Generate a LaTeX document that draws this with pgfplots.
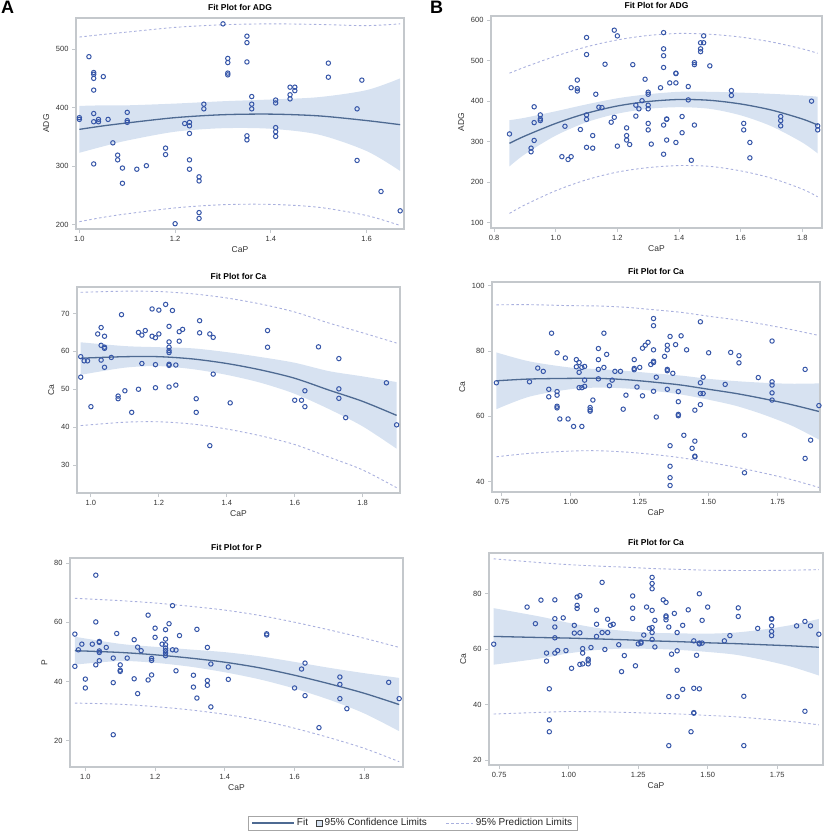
\documentclass[border=0pt]{standalone}
\usepackage{fontspec}
\setmainfont{Liberation Sans}
\usepackage{pgfplots}
\pgfplotsset{compat=1.18}
\usepackage{pgfplotstable}
\usepgfplotslibrary{fillbetween}
\definecolor{framec}{HTML}{C4C8CC}
\definecolor{textc}{HTML}{333333}
\definecolor{markc}{HTML}{3656A8}
\definecolor{fitc}{HTML}{4E6A92}
\definecolor{bandc}{HTML}{D7E2F1}
\definecolor{predc}{HTML}{A9B0DE}

% ---------------- fit / band tables ----------------
\pgfplotstableread{
x fit clo chi plo phi
1.00 363 323 403 205.5 520.5
1.05 369 334 404 213 525
1.10 374 344 404 219 529
1.20 383 359 407 229 537
1.30 388 365 411 234.5 541.5
1.40 389 364 414 235 543
1.50 386 354 418 230 542
1.60 378 326 430 216 540
1.67 371 292 450 199 543
}\bandAa
\pgfplotstableread{
x fit clo chi plo phi
0.85 296 239 353 123 469
0.90 314 269 359 144 484
1.00 345 315 375 179 511
1.10 370 348 392 206 534
1.20 388 369 407 225 551
1.30 399 381 417 236 562
1.40 404 385 423 241 567
1.50 402 381 423 239 565
1.60 393 365 421 228 558
1.70 378 338 418 210 546
1.80 356 298 414 183 529
1.85 341 271 411 164 518
}\bandBa
\pgfplotstableread{
x fit clo chi plo phi
0.97 58.2 53.8 62.4 40.4 75.6
1.10 58.6 55.7 61.4 41.3 75.9
1.20 58.6 56.1 61.1 41.4 75.8
1.30 58.0 55.3 60.8 40.8 75.2
1.40 56.8 53.8 59.8 39.5 74.1
1.50 55.1 51.7 58.5 37.7 72.5
1.60 52.9 48.8 57.0 35.4 70.4
1.70 49.8 44.8 54.8 32.1 67.5
1.80 46.8 40.2 53.4 28.7 64.9
1.90 43.1 34.3 51.9 24.0 62.2
}\bandAb
\pgfplotstableread{
x fit clo chi plo phi
0.73 70.9 62.2 79.6 47.6 94.2
0.85 71.45 66.05 76.85 48.65 94.25
1.00 71.65 68.35 74.95 49.35 93.95
1.10 71.65 68.8 74.5 49.45 93.85
1.20 71.25 68.55 73.95 49.05 93.45
1.30 70.5 67.8 73.2 48.3 92.7
1.40 69.6 66.7 72.5 47.3 91.9
1.50 68.3 65.1 71.5 45.9 90.7
1.60 67.0 63.2 70.8 44.4 89.6
1.70 65.4 60.5 70.3 42.6 88.2
1.80 63.6 57.2 70.0 40.6 86.6
1.90 61.5 52.9 70.1 38.2 84.8
}\bandBb
\pgfplotstableread{
x fit clo chi plo phi
0.97 50.4 45.7 55.1 32.7 68.1
1.10 49.8 46.9 52.7 32.3 67.3
1.20 49.0 46.3 51.7 31.5 66.5
1.30 47.9 45.0 50.8 30.4 65.4
1.40 46.5 43.1 49.9 28.9 64.1
1.50 44.6 40.7 48.5 26.9 62.3
1.60 42.1 37.6 46.6 24.2 60.0
1.70 39.2 33.8 44.6 21.0 57.4
1.80 36.0 29.2 42.8 17.4 54.6
1.90 32.2 23.2 41.2 12.9 51.5
}\bandAc
\pgfplotstableread{
x fit clo chi plo phi
0.73 64.6 54.4 74.8 36.6 92.6
0.90 64.2 56.7 71.7 37.2 91.2
1.00 64.0 58.5 69.5 37.5 90.5
1.10 63.7 59.7 67.7 37.4 90.0
1.20 63.4 60.2 66.6 37.2 89.6
1.30 63.0 60.1 65.9 36.9 89.1
1.40 62.7 59.7 65.7 36.6 88.8
1.50 62.3 59.0 65.6 36.1 88.5
1.60 62.0 58.0 66.0 35.6 88.4
1.70 61.6 56.1 67.1 34.8 88.4
1.80 61.2 53.7 68.7 33.9 88.5
1.90 60.7 50.5 70.9 32.7 88.7
}\bandBc

% ---------------- observations ----------------
\pgfplotstableread{
x y
1.00 383
1.00 380
1.02 487
1.03 460
1.03 457
1.03 450
1.03 430
1.03 390
1.03 376
1.03 304
1.04 380
1.04 376
1.05 453
1.06 380
1.07 340
1.08 319
1.08 311
1.09 297
1.09 271
1.10 392
1.10 378
1.10 375
1.12 295
1.14 301
1.18 331
1.18 320
1.20 202
1.22 373
1.23 375
1.23 369
1.23 356
1.23 311
1.23 295
1.25 282
1.25 275
1.25 221
1.25 211
1.26 406
1.26 398
1.30 543
1.31 484
1.31 477
1.31 459
1.31 456
1.35 522
1.35 511
1.35 478
1.35 352
1.35 345
1.36 419
1.36 406
1.36 398
1.41 413
1.41 408
1.41 366
1.41 359
1.41 351
1.44 435
1.44 422
1.44 415
1.45 435
1.45 429
1.52 476
1.52 452
1.58 398
1.58 310
1.59 447
1.63 257
1.67 224
}\obsAa
\pgfplotstableread{
x y
0.85 319
0.92 284
0.92 275
0.93 386
0.93 347
0.93 303
0.95 366
0.95 356
0.95 352
1.02 263
1.03 338
1.04 256
1.05 263
1.05 433
1.07 452
1.07 431
1.07 425
1.08 330
1.10 557
1.10 515
1.10 366
1.10 355
1.10 286
1.12 315
1.12 284
1.13 417
1.14 385
1.15 384
1.16 491
1.18 348
1.19 575
1.19 360
1.20 561
1.20 289
1.23 334
1.23 315
1.23 304
1.24 293
1.25 490
1.26 390
1.26 363
1.27 381
1.28 401
1.29 454
1.30 422
1.30 417
1.30 390
1.30 381
1.30 345
1.30 329
1.31 294
1.34 433
1.35 569
1.35 529
1.35 512
1.35 483
1.35 341
1.35 269
1.36 356
1.36 355
1.36 304
1.37 445
1.39 469
1.39 468
1.39 445
1.39 298
1.41 362
1.41 322
1.43 436
1.43 403
1.44 254
1.45 341
1.45 495
1.45 490
1.47 544
1.47 529
1.47 522
1.48 561
1.48 544
1.50 487
1.57 426
1.57 414
1.61 345
1.61 329
1.63 298
1.63 260
1.73 362
1.73 352
1.73 339
1.83 400
1.85 339
1.85 329
}\obsBa
\pgfplotstableread{
x y
0.97 58.6
0.97 53.2
0.98 57.5
0.99 57.5
1.00 45.4
1.02 64.6
1.03 66.3
1.03 61.6
1.03 57.7
1.04 64.0
1.04 61.1
1.04 60.8
1.04 55.8
1.06 58.4
1.08 48.2
1.08 47.5
1.09 69.7
1.10 49.6
1.12 43.9
1.14 65.0
1.14 50.0
1.15 64.3
1.15 56.8
1.16 65.5
1.18 71.2
1.18 64.0
1.19 63.6
1.19 56.5
1.19 50.4
1.20 70.9
1.20 64.6
1.22 72.4
1.23 66.6
1.23 62.5
1.23 61.1
1.23 60.2
1.23 59.7
1.23 56.6
1.23 56.3
1.23 50.6
1.24 70.8
1.25 56.4
1.25 51.1
1.26 62.7
1.26 65.2
1.27 65.8
1.31 47.5
1.31 43.9
1.32 68.1
1.32 64.9
1.35 64.6
1.35 35.1
1.36 63.7
1.36 54.0
1.41 46.4
1.52 65.5
1.52 61.1
1.60 47.1
1.62 47.1
1.63 49.6
1.63 45.4
1.67 61.2
1.73 58.1
1.73 50.1
1.73 47.6
1.75 42.5
1.87 51.7
1.90 40.6
}\obsAb
\pgfplotstableread{
x y
0.73 70.3
0.85 70.6
0.88 74.8
0.90 73.8
0.92 68.3
0.92 66.0
0.93 85.5
0.95 79.5
0.95 67.6
0.95 66.5
0.95 63.1
0.95 62.6
0.96 59.2
0.98 77.9
0.99 59.2
1.01 56.9
1.02 77.4
1.02 75.2
1.03 76.5
1.03 73.5
1.03 68.8
1.04 75.0
1.04 68.8
1.04 56.9
1.05 75.3
1.05 71.1
1.05 69.2
1.07 62.7
1.07 62.0
1.07 61.6
1.08 65.0
1.10 80.8
1.10 77.4
1.10 74.4
1.10 71.5
1.12 85.5
1.12 75.0
1.13 79.0
1.14 69.4
1.15 71.1
1.16 73.8
1.18 73.8
1.19 62.2
1.20 66.5
1.23 77.4
1.23 74.7
1.23 74.3
1.24 69.0
1.25 75.0
1.26 66.3
1.26 80.9
1.27 81.8
1.28 82.7
1.29 75.9
1.30 90.0
1.30 87.8
1.30 80.4
1.30 76.9
1.30 76.5
1.30 67.7
1.31 72.0
1.31 59.8
1.34 78.4
1.35 81.8
1.35 80.4
1.35 74.4
1.35 74.0
1.35 68.3
1.36 84.5
1.36 51.0
1.36 44.7
1.36 41.2
1.36 38.8
1.37 73.2
1.38 82.0
1.39 67.6
1.39 64.5
1.39 60.6
1.39 60.2
1.40 84.7
1.41 54.2
1.42 80.4
1.44 50.2
1.45 61.9
1.45 52.4
1.45 47.8
1.45 47.6
1.47 89.0
1.47 70.3
1.47 67.0
1.47 63.6
1.48 72.0
1.48 67.0
1.50 79.5
1.56 69.8
1.58 79.6
1.61 78.6
1.61 76.4
1.63 54.2
1.63 42.7
1.68 71.9
1.73 83.1
1.73 70.6
1.73 69.6
1.73 67.2
1.73 65.0
1.85 74.4
1.85 47.1
1.87 52.7
1.90 63.3
}\obsBb
\pgfplotstableread{
x y
0.97 56.0
0.97 45.1
0.98 50.7
0.99 52.6
1.00 40.8
1.00 37.8
1.02 52.6
1.03 75.9
1.03 60.1
1.03 45.6
1.04 53.5
1.04 53.2
1.04 50.3
1.04 49.8
1.04 47.0
1.06 51.5
1.08 47.9
1.08 39.6
1.08 22.0
1.09 56.2
1.10 45.6
1.10 43.8
1.10 43.4
1.12 47.9
1.14 54.1
1.14 40.9
1.15 51.6
1.15 35.9
1.16 50.4
1.18 62.4
1.18 40.5
1.19 47.8
1.19 47.1
1.19 42.2
1.20 58.0
1.20 54.9
1.22 52.6
1.23 57.5
1.23 54.3
1.23 52.4
1.23 51.3
1.23 50.4
1.23 49.6
1.23 48.7
1.24 59.5
1.25 65.6
1.25 50.7
1.26 50.6
1.26 43.6
1.27 55.5
1.31 42.1
1.31 38.1
1.32 57.6
1.32 34.4
1.35 51.5
1.35 40.3
1.35 38.7
1.36 45.9
1.36 31.4
1.41 44.9
1.41 40.7
1.52 56.1
1.52 55.7
1.60 37.8
1.62 44.2
1.63 46.2
1.63 35.2
1.67 24.4
1.73 41.5
1.73 39.0
1.73 34.2
1.75 30.8
1.87 39.7
1.90 34.2
}\obsAc
\pgfplotstableread{
x y
0.73 61.8
0.85 75.2
0.88 69.2
0.90 77.7
0.92 58.6
0.92 55.7
0.93 45.7
0.93 34.5
0.93 30.2
0.95 77.8
0.95 71.0
0.95 68.0
0.95 64.1
0.95 58.6
0.96 59.5
0.98 71.3
0.99 59.5
1.01 53.1
1.02 68.6
1.02 65.8
1.03 78.8
1.03 75.8
1.03 74.7
1.04 79.3
1.04 65.9
1.04 54.5
1.05 60.2
1.05 58.6
1.05 54.7
1.07 56.4
1.07 55.8
1.07 54.7
1.08 60.6
1.10 74.1
1.10 69.0
1.10 64.6
1.12 84.1
1.12 66.0
1.13 59.9
1.14 70.8
1.14 66.0
1.15 68.6
1.16 69.0
1.18 61.6
1.19 51.9
1.20 57.7
1.23 79.2
1.23 74.8
1.23 71.1
1.24 54.0
1.25 61.9
1.26 62.2
1.26 62.6
1.27 65.1
1.28 75.2
1.29 67.5
1.30 85.9
1.30 83.7
1.30 81.8
1.30 74.0
1.30 67.8
1.30 66.0
1.30 63.5
1.31 70.4
1.31 60.8
1.34 77.8
1.35 76.9
1.35 72.0
1.35 71.6
1.35 70.6
1.36 68.0
1.36 42.9
1.36 25.2
1.37 58.2
1.38 72.9
1.39 66.0
1.39 59.4
1.39 52.4
1.39 42.9
1.41 68.6
1.41 45.5
1.43 74.2
1.44 30.2
1.45 63.0
1.45 45.9
1.45 37.1
1.45 36.9
1.46 57.8
1.47 80.0
1.47 62.2
1.47 61.9
1.47 45.7
1.48 70.4
1.48 62.2
1.50 75.2
1.56 63.0
1.58 64.9
1.61 74.9
1.61 71.8
1.63 43.0
1.63 25.2
1.68 67.5
1.73 71.0
1.73 70.8
1.73 68.4
1.73 66.4
1.73 64.9
1.82 68.4
1.85 70.0
1.85 37.6
1.87 68.4
1.90 65.4
}\obsBc

\pgfplotsset{
  sas/.style={
    scale only axis,
    anchor=north west,
    axis line style={draw=framec, line width=1.3pt},
    tick align=outside, tick pos=left,
    major tick length=4pt,
    every tick/.style={draw=framec, line width=0.9pt},
    tick label style={font=\fontsize{7.5}{8}\selectfont, text=textc},
    label style={font=\fontsize{8.5}{9}\selectfont, text=textc},
    title style={font=\bfseries\fontsize{8.5}{9}\selectfont, yshift=-2pt},
    /pgf/number format/assume math mode=true,
    xticklabel style={/pgf/number format/.cd, fixed, fixed zerofill, precision=1},
    yticklabel style={/pgf/number format/.cd, fixed},
    xlabel={CaP},
    xlabel style={yshift=2pt},
  },
  sas2/.style={xticklabel style={/pgf/number format/.cd, fixed, fixed zerofill, precision=2}},
}

\newcommand{\fitband}[1]{%
  \addplot[name path=chi, draw=none, smooth, forget plot] table[x=x,y=chi]{#1};
  \addplot[name path=clo, draw=none, smooth, forget plot] table[x=x,y=clo]{#1};
  \addplot[fill=bandc, draw=none, forget plot] fill between[of=chi and clo];
  \addplot[predc, line width=0.9pt, dash pattern=on 2.5pt off 2.5pt, smooth, forget plot] table[x=x,y=phi]{#1};
  \addplot[predc, line width=0.9pt, dash pattern=on 2.5pt off 2.5pt, smooth, forget plot] table[x=x,y=plo]{#1};
  \addplot[fitc, line width=1.3pt, smooth, forget plot] table[x=x,y=fit]{#1};
}
\newcommand{\obs}[1]{%
  \addplot[only marks, mark=o, mark size=2.2pt, color=markc, mark options={line width=1pt}, forget plot] table[x=x,y=y]{#1};
}

\begin{document}
\begin{tikzpicture}

% ---------- A1 ----------
\begin{axis}[sas, at={(76pt,-18pt)}, width=328pt, height=211pt,
  xmin=0.993, xmax=1.678, ymin=193, ymax=553,
  xtick={1.0,1.2,1.4,1.6}, ytick={200,300,400,500},
  title={Fit Plot for ADG}, ylabel={ADG}]
\fitband{\bandAa}
\obs{\obsAa}
\end{axis}

% ---------- B1 ----------
\begin{axis}[sas, at={(491pt,-16pt)}, width=331pt, height=212pt,
  xmin=0.79, xmax=1.864, ymin=87, ymax=610,
  xtick={0.8,1.0,1.2,1.4,1.6,1.8}, ytick={100,200,300,400,500,600},
  title={Fit Plot for ADG}, ylabel={ADG}]
\fitband{\bandBa}
\obs{\obsBa}
\end{axis}

% ---------- A2 ----------
\begin{axis}[sas, at={(77pt,-287pt)}, width=323pt, height=206pt,
  xmin=0.959, xmax=1.91, ymin=22.6, ymax=77,
  xtick={1.0,1.2,1.4,1.6,1.8}, ytick={30,40,50,60,70},
  title={Fit Plot for Ca}, ylabel={Ca}]
\fitband{\bandAb}
\obs{\obsAb}
\end{axis}

% ---------- B2 ----------
\begin{axis}[sas, sas2, at={(492pt,-282pt)}, width=328pt, height=210pt,
  xmin=0.714, xmax=1.904, ymin=36.8, ymax=101.2,
  xtick={0.75,1.00,1.25,1.50,1.75}, ytick={40,60,80,100},
  title={Fit Plot for Ca}, ylabel={Ca}]
\fitband{\bandBb}
\obs{\obsBb}
\end{axis}

% ---------- A3 ----------
\begin{axis}[sas, at={(70pt,-558pt)}, width=333pt, height=209pt,
  xmin=0.956, xmax=1.911, ymin=11.1, ymax=81.7,
  xtick={1.0,1.2,1.4,1.6,1.8}, ytick={20,40,60,80},
  title={Fit Plot for P}, ylabel={P}]
\fitband{\bandAc}
\obs{\obsAc}
\end{axis}

% ---------- B3 ----------
\begin{axis}[sas, sas2, at={(489pt,-553pt)}, width=334pt, height=212pt,
  xmin=0.713, xmax=1.915, ymin=18.2, ymax=94.7,
  xtick={0.75,1.00,1.25,1.50,1.75}, ytick={20,40,60,80},
  title={Fit Plot for Ca}, ylabel={Ca},
  legend columns=3,
  legend style={at={(axis description cs:-0.228,-0.274)}, anchor=center,
    draw=black!35, line width=0.8pt, font=\fontsize{10}{10.5}\selectfont, text=black!85,
    inner xsep=3pt, inner ysep=0.5pt,
    /tikz/column 2/.style={column sep=6pt},
    /tikz/column 4/.style={column sep=17pt}},
  ]
\fitband{\bandBc}
\obs{\obsBc}
\addlegendimage{legend image code/.code={\draw[fitc, line width=1.3pt] (0pt,0pt) -- (42pt,0pt);}}
\addlegendentry{Fit}
\addlegendimage{legend image code/.code={\draw[fill=bandc, draw=black!75, line width=0.7pt] (0pt,-3pt) rectangle (6pt,3pt);}}
\addlegendentry{95\% Confidence Limits}
\addlegendimage{legend image code/.code={\draw[predc, line width=0.9pt, dash pattern=on 2.5pt off 2.5pt] (0pt,0pt) -- (27pt,0pt);}}
\addlegendentry{95\% Prediction Limits}
\end{axis}

\node[anchor=north west, inner sep=0pt, font=\bfseries\fontsize{18}{18}\selectfont] at (1pt,-1pt) {A};
\node[anchor=north west, inner sep=0pt, font=\bfseries\fontsize{18}{18}\selectfont] at (430pt,-1pt) {B};
\pgfresetboundingbox
\path[use as bounding box] (0,0) rectangle (827pt,-833pt);
\end{tikzpicture}
\end{document}
